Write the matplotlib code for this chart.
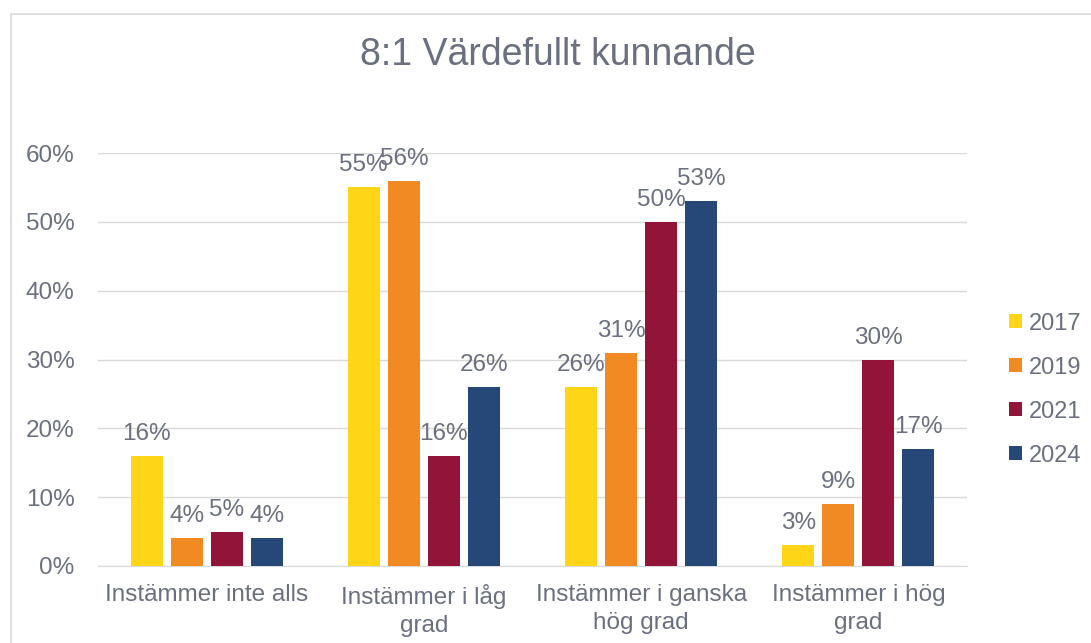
import matplotlib.pyplot as plt
import numpy as np
from matplotlib.patches import Rectangle

# --- DATA ---
categories = ['Instämmer inte alls', 'Instämmer i låg\ngrad', 'Instämmer i ganska\nhög grad', 'Instämmer i hög\ngrad']
years = ['2017', '2019', '2021', '2024']
v2017 = [16, 55, 26, 3]
v2019 = [4, 56, 31, 9]
v2021 = [5, 16, 50, 30]
v2024 = [4, 26, 53, 17]
colors = ['#FFD518', '#F28A24', '#921539', '#264879']

plt.rcParams['font.family'] = ['Liberation Sans', 'DejaVu Sans']
txt = '#6B7080'
fs = 17.5

fig = plt.figure(figsize=(10.91, 6.43), dpi=100)
ax = fig.add_axes([98 / 1091, 1 - 566 / 643, 869 / 1091, 413 / 643])

x = np.arange(len(categories))
step = 40 / 217
width = 32 / 217
series = [v2017, v2019, v2021, v2024]
for i, (vals, yr, c) in enumerate(zip(series, years, colors)):
    pos = x + (i - 1.5) * step
    bars = ax.bar(pos, vals, width, color=c, label=yr, zorder=3)
    for b, v in zip(bars, vals):
        ax.annotate(f'{v}%', (b.get_x() + b.get_width() / 2, v), xytext=(0, 11.5),
                    textcoords='offset points', ha='center', va='baseline',
                    fontsize=fs, color=txt)

ax.set_xlim(-0.5, 3.5)
ax.set_ylim(0, 60)
ax.set_yticks(range(0, 61, 10))
ax.set_yticklabels([f'{t}%' for t in range(0, 61, 10)], fontsize=fs, color=txt)
ax.set_xticks(x)
ax.set_xticklabels(categories, fontsize=fs, color=txt, linespacing=1.35)
ax.tick_params(axis='x', length=0, pad=13)
ax.tick_params(axis='y', length=0, pad=17)
ax.grid(axis='y', color='#D9D9D9', linewidth=1, zorder=0)
for s in ['top', 'right', 'left']:
    ax.spines[s].set_visible(False)
ax.spines['bottom'].set_color('#D9D9D9')

fig.text(558 / 1091, 1 - 55 / 643, '8:1 Värdefullt kunnande', ha='center', va='center',
         fontsize=27, color=txt)

leg = ax.legend(loc='center left', bbox_to_anchor=(1.029, 0.427), frameon=False,
                fontsize=17, labelcolor=txt, handlelength=0.55, handleheight=0.55,
                handletextpad=0.3, labelspacing=0.93, borderaxespad=0.3)

fig.patches.append(Rectangle((11 / 1091, -0.1), 1.2, 1 - 14 / 643 + 0.1, transform=fig.transFigure,
                             fill=False, edgecolor='#D9D9D9', linewidth=1.2))

fig.savefig('out.png', dpi=100)
